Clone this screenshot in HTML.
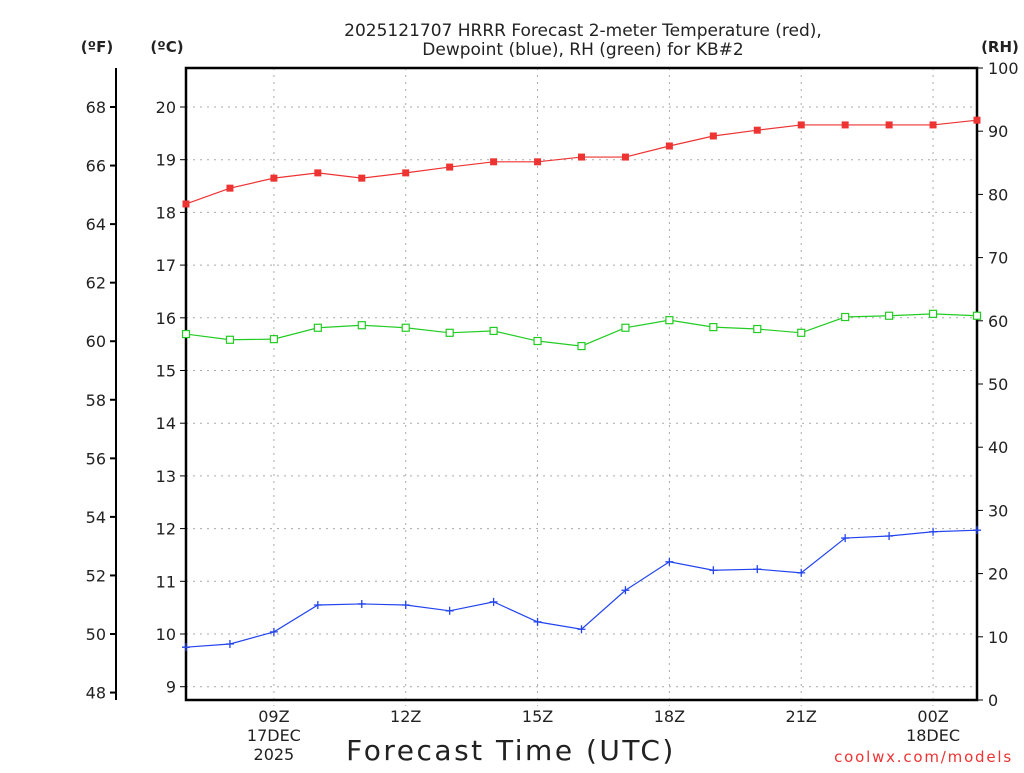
<!DOCTYPE html>
<html><head><meta charset="utf-8"><style>
body{margin:0;background:#fff}
svg text{font-family:"DejaVu Sans","Liberation Sans",sans-serif;fill:#222}
</style></head><body>
<svg id="chart" width="1024" height="768" xmlns="http://www.w3.org/2000/svg">
<g>
<text x="583" y="36" text-anchor="middle" font-size="17">2025121707 HRRR Forecast 2-meter Temperature (red),</text>
<text x="583" y="55" text-anchor="middle" font-size="17">Dewpoint (blue), RH (green) for KB#2</text>
</g>
<text x="97" y="52" text-anchor="middle" font-size="15" font-weight="bold">(ºF)</text>
<text x="167" y="52" text-anchor="middle" font-size="15" font-weight="bold">(ºC)</text>
<text x="1000" y="52" text-anchor="middle" font-size="15" font-weight="bold">(RH)</text>
<text x="511" y="760" text-anchor="middle" font-size="28" letter-spacing="2.5">Forecast Time (UTC)</text>
<text x="1013" y="762" text-anchor="end" font-size="15" letter-spacing="1.8" style="fill:#e33">coolwx.com/models</text>
<g id="grid"></g><g id="axes"></g><g id="series"></g>
</svg>
<script>
const hours=[7,8,9,10,11,12,13,14,15,16,17,18,19,20,21,22,23,24,25];
const tempC=[18.16,18.46,18.65,18.75,18.65,18.75,18.86,18.96,18.96,19.05,19.05,19.26,19.45,19.56,19.66,19.66,19.66,19.66,19.75];
const dewC=[9.75,9.81,10.04,10.55,10.57,10.55,10.44,10.61,10.23,10.09,10.83,11.37,11.21,11.23,11.16,11.82,11.86,11.94,11.97];
const rh=[57.9,57.0,57.1,58.9,59.3,58.9,58.1,58.4,56.8,56.0,58.9,60.1,59.0,58.7,58.1,60.6,60.8,61.1,60.8];
const cTicks=[9,10,11,12,13,14,15,16,17,18,19,20];
const fTicks=[48,50,52,54,56,58,60,62,64,66,68];
const rhTicks=[0,10,20,30,40,50,60,70,80,90,100];
const xTickHours=[9,12,15,18,21,24];
const xTickLabels=[["09Z","17DEC","2025"],["12Z"],["15Z"],["18Z"],["21Z"],["00Z","18DEC"]];
const L=186,R=977,T=68,B=700;
const x=h=>L+(h-7)*(R-L)/18;
const yC=c=>107+(20-c)*52.7;
const yF=f=>yC((f-32)/1.8);
const yR=r=>B-r*(B-T)/100;
const NS="http://www.w3.org/2000/svg";
function mk(p,tag,a){const e=document.createElementNS(NS,tag);for(const k in a)e.setAttribute(k,a[k]);p.appendChild(e);return e;}
const grid=document.getElementById('grid'),axes=document.getElementById('axes'),ser=document.getElementById('series');
cTicks.forEach(c=>{const l=mk(grid,'line',{x1:L,x2:R,y1:yC(c),y2:yC(c),stroke:'#aaa','stroke-dasharray':'2,5'});


const t=mk(axes,'line',{x1:L-6,x2:L,y1:yC(c),y2:yC(c),stroke:'#000'});
const tx=mk(axes,'text',{x:L-10,y:yC(c)+6,'text-anchor':'end','font-size':16});tx.textContent=c;

});
xTickHours.forEach((h,i)=>{const l=mk(grid,'line',{x1:x(h),x2:x(h),y1:T,y2:B+6,stroke:'#aaa','stroke-dasharray':'2,5'});


xTickLabels[i].forEach((s,j)=>{const t=mk(axes,'text',{x:x(h),y:722+j*19,'text-anchor':'middle','font-size':16});t.textContent=s;

});});
mk(axes,'line',{x1:116,x2:116,y1:T,y2:B,stroke:'#000','stroke-width':2});
fTicks.forEach(f=>{mk(axes,'line',{x1:110,x2:116,y1:yF(f),y2:yF(f),stroke:'#000','stroke-width':2});
const t=mk(axes,'text',{x:106,y:yF(f)+6,'text-anchor':'end','font-size':16});t.textContent=f;

});
rhTicks.forEach(r=>{mk(axes,'line',{x1:R,x2:R+6,y1:yR(r),y2:yR(r),stroke:'#000'});
const t=mk(axes,'text',{x:988,y:yR(r)+6,'font-size':16});t.textContent=r;

});
const fr=mk(axes,'rect',{x:L,y:T,width:R-L,height:B-T,fill:'none',stroke:'#000','stroke-width':2.5});


function series(vals,yf,color,marker,name){
const g=mk(ser,'g',{});


mk(g,'polyline',{points:vals.map((v,i)=>x(hours[i])+','+yf(v)).join(' '),fill:'none',stroke:color,'stroke-width':1.2});
vals.forEach((v,i)=>{const cx=x(hours[i]),cy=yf(v);let m;
if(marker==='fill')m=mk(g,'rect',{x:cx-3.5,y:cy-3.5,width:7,height:7,fill:color});
else if(marker==='open')m=mk(g,'rect',{x:cx-3.5,y:cy-3.5,width:7,height:7,fill:'#fff',stroke:color,'stroke-width':1.2});
else m=mk(g,'path',{d:`M${cx-4} ${cy}H${cx+4}M${cx} ${cy-4}V${cy+4}`,stroke:color,'stroke-width':1.3});

});}
series(rh,yR,'#22cc22','open','rh-series');
series(tempC,yC,'#ee3333','fill','temperature-series');
series(dewC,yC,'#2244ee','plus','dewpoint-series');
</script>
</body></html>
